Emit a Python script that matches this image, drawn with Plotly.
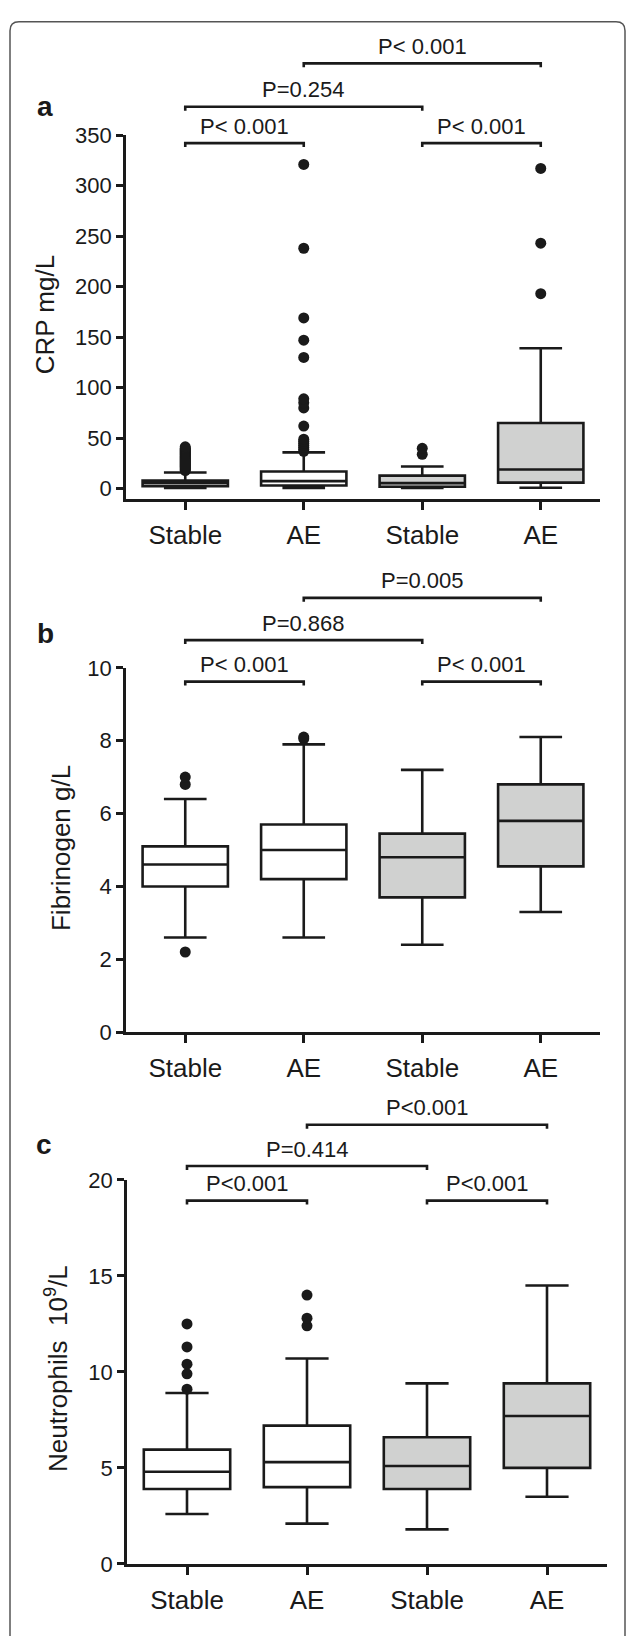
import plotly.graph_objects as go

W, H = 627, 1636
FONT = "Arial, 'Liberation Sans', Helvetica, sans-serif"
INK = "#1a1a1a"
GRAY_FILL = "#d0d1d0"

categories = ["Stable", "AE", "Stable", "AE"]
box_fill = ["white", "white", GRAY_FILL, GRAY_FILL]

# ---- panel a: CRP mg/L ----
crp_q1 = [2.5, 3.2, 2.0, 6.0]
crp_median = [5.5, 7.5, 5.5, 19.0]
crp_q3 = [8.0, 17.0, 13.0, 65.0]
crp_lower = [0.8, 0.8, 0.8, 1.0]
crp_upper = [16.0, 36.0, 22.0, 139.0]
crp_out_stable1 = [18, 19, 20, 21, 22, 23, 24, 25, 26, 27, 28, 29, 30, 31, 32, 33, 34, 35, 36, 37, 38, 39, 40, 41.5]
crp_out_ae1 = [37, 39, 41, 43, 45, 47, 49, 62, 80, 85, 89, 130, 147, 169, 238, 321]
crp_out_stable2 = [34, 40]
crp_out_ae2 = [193, 243, 317]
crp_ticks = [0, 50, 100, 150, 200, 250, 300, 350]
crp_p = ["P< 0.001", "P=0.254", "P< 0.001", "P< 0.001"]
crp_p_level = [421, 378, 342, 342]

# ---- panel b: Fibrinogen g/L ----
fib_q1 = [4.0, 4.2, 3.7, 4.55]
fib_median = [4.6, 5.0, 4.8, 5.8]
fib_q3 = [5.1, 5.7, 5.45, 6.8]
fib_lower = [2.6, 2.6, 2.4, 3.3]
fib_upper = [6.4, 7.9, 7.2, 8.1]
fib_out_stable1 = [2.2, 6.8, 7.0]
fib_out_ae1 = [8.05, 8.1]
fib_out_stable2 = []
fib_out_ae2 = []
fib_ticks = [0, 2, 4, 6, 8, 10]
fib_p = ["P=0.005", "P=0.868", "P< 0.001", "P< 0.001"]
fib_p_level = [11.92, 10.76, 9.62, 9.62]

# ---- panel c: Neutrophils 10^9/L ----
neu_q1 = [3.9, 4.0, 3.9, 5.0]
neu_median = [4.8, 5.3, 5.1, 7.7]
neu_q3 = [5.95, 7.2, 6.6, 9.4]
neu_lower = [2.6, 2.1, 1.8, 3.5]
neu_upper = [8.9, 10.7, 9.4, 14.5]
neu_out_stable1 = [9.1, 9.9, 10.4, 11.3, 12.5]
neu_out_ae1 = [12.4, 12.8, 14.0]
neu_out_stable2 = []
neu_out_ae2 = []
neu_ticks = [0, 5, 10, 15, 20]
neu_p = ["P<0.001", "P=0.414", "P<0.001", "P<0.001"]
neu_p_level = [22.87, 20.72, 18.92, 18.92]

# comparison pairs (category index from, to)
p_pairs = [(1, 3), (0, 2), (0, 1), (2, 3)]


def px_x(p):
    return p / W


def px_y(p):
    return 1 - p / H


panels = [
    dict(letter="a", title="CRP mg/L",
         q1=crp_q1, med=crp_median, q3=crp_q3, lo=crp_lower, hi=crp_upper,
         out=[crp_out_stable1, crp_out_ae1, crp_out_stable2, crp_out_ae2],
         yrange=[-10.6, 350], ticks=crp_ticks, p=crp_p, lvl=crp_p_level,
         xdom=[px_x(126), px_x(600)], ydom=[px_y(495), px_y(125)],
         title_pos=(45, 308), letter_pos=(45, 96)),
    dict(letter="b", title="Fibrinogen g/L",
         q1=fib_q1, med=fib_median, q3=fib_q3, lo=fib_lower, hi=fib_upper,
         out=[fib_out_stable1, fib_out_ae1, fib_out_stable2, fib_out_ae2],
         yrange=[0, 10], ticks=fib_ticks, p=fib_p, lvl=fib_p_level,
         xdom=[px_x(126), px_x(600)], ydom=[px_y(1036), px_y(666)],
         title_pos=(61, 849), letter_pos=(45, 631)),
    dict(letter="c", title="Neutrophils\u00a0\u00a010<sup>9</sup>/L",
         q1=neu_q1, med=neu_median, q3=neu_q3, lo=neu_lower, hi=neu_upper,
         out=[neu_out_stable1, neu_out_ae1, neu_out_stable2, neu_out_ae2],
         yrange=[0, 20], ticks=neu_ticks, p=neu_p, lvl=neu_p_level,
         xdom=[px_x(127), px_x(607)], ydom=[px_y(1576), px_y(1186)],
         title_pos=(57, 1378), letter_pos=(44, 1150)),
]

fig = go.Figure()
shapes = []
annotations = []
layout_axes = {}

for k, pn in enumerate(panels):
    sfx = "" if k == 0 else str(k + 1)
    xa, ya = "x" + sfx, "y" + sfx
    for i in range(len(categories)):
        fig.add_trace(go.Box(
            x=[i], q1=[pn["q1"][i]], median=[pn["med"][i]], q3=[pn["q3"][i]],
            lowerfence=[pn["lo"][i]], upperfence=[pn["hi"][i]],
            orientation="v", width=0.72, whiskerwidth=0.5, boxpoints=False,
            fillcolor=box_fill[i], line=dict(color=INK, width=2.6),
            xaxis=xa, yaxis=ya, showlegend=False, hoverinfo="skip"))
        if pn["out"][i]:
            fig.add_trace(go.Scatter(
                x=[i] * len(pn["out"][i]), y=pn["out"][i], mode="markers",
                marker=dict(size=11, color=INK), cliponaxis=False,
                xaxis=xa, yaxis=ya, showlegend=False, hoverinfo="skip"))

    layout_axes["xaxis" + sfx] = dict(
        domain=pn["xdom"], anchor=ya, range=[-0.5, 3.5],
        tickmode="array", tickvals=list(range(len(categories))), ticktext=categories,
        ticks="outside", ticklen=8, tickwidth=2.6, tickcolor=INK,
        showline=True, linecolor=INK, linewidth=2.6,
        showgrid=False, zeroline=False, ticklabelstandoff=3,
        tickfont=dict(family=FONT, size=26, color=INK), fixedrange=True)
    layout_axes["yaxis" + sfx] = dict(
        domain=pn["ydom"], anchor=xa, range=pn["yrange"],
        tickmode="array", tickvals=pn["ticks"],
        ticks="outside", ticklen=7, tickwidth=2.6, tickcolor=INK,
        showline=True, linecolor=INK, linewidth=2.6,
        showgrid=False, zeroline=False,
        tickfont=dict(family=FONT, size=22, color=INK), fixedrange=True)

    # brackets in paper y coordinates derived from data values
    r0, r1 = pn["yrange"]
    d0, d1 = pn["ydom"]

    def to_paper(v, r0=r0, r1=r1, d0=d0, d1=d1):
        return d0 + (v - r0) / (r1 - r0) * (d1 - d0)

    tick = 4 / H
    for (a, b), lab, lv in zip(p_pairs, pn["p"], pn["lvl"]):
        yb = to_paper(lv)
        shapes.append(dict(
            type="path", xref=xa, yref="paper",
            path=f"M {a},{yb - tick} L {a},{yb} L {b},{yb} L {b},{yb - tick}",
            line=dict(color=INK, width=2.6)))
        annotations.append(dict(
            x=(a + b) / 2, y=yb, xref=xa, yref="paper", text=lab,
            showarrow=False, xanchor="center", yanchor="middle", yshift=17,
            font=dict(family=FONT, size=22, color=INK)))

    tx, ty = pn["title_pos"]
    annotations.append(dict(
        x=px_x(tx), y=px_y(ty), xref="paper", yref="paper", text=pn["title"],
        textangle=-90, showarrow=False, xanchor="center", yanchor="middle",
        font=dict(family=FONT, size=26, color=INK)))
    lx, ly = pn["letter_pos"]
    annotations.append(dict(
        x=px_x(lx), y=px_y(ly), xref="paper", yref="paper",
        text=f"<b>{pn['letter']}</b>", showarrow=False,
        xanchor="center", yanchor="middle",
        font=dict(family=FONT, size=28, color=INK)))

# rounded outer frame (bottom runs off the page)
fx0, fx1, fy0 = px_x(10), px_x(625), px_y(10)
rx, ry = 9 / W, 9 / H
shapes.append(dict(
    type="path", xref="paper", yref="paper",
    path=(f"M {fx0},-0.01 L {fx0},{fy0 - ry} Q {fx0},{fy0} {fx0 + rx},{fy0} "
          f"L {fx1 - rx},{fy0} Q {fx1},{fy0} {fx1},{fy0 - ry} L {fx1},-0.01"),
    line=dict(color="#555555", width=1.5)))

fig.update_layout(
    width=W, height=H, margin=dict(l=0, r=0, t=0, b=0),
    paper_bgcolor="white", plot_bgcolor="white",
    showlegend=False, shapes=shapes, annotations=annotations,
    font=dict(family=FONT, color=INK),
    **layout_axes)

fig.write_html("out.html", config={"displayModeBar": False},
               post_script="document.body.style.margin='0';document.body.style.overflow='hidden';")
